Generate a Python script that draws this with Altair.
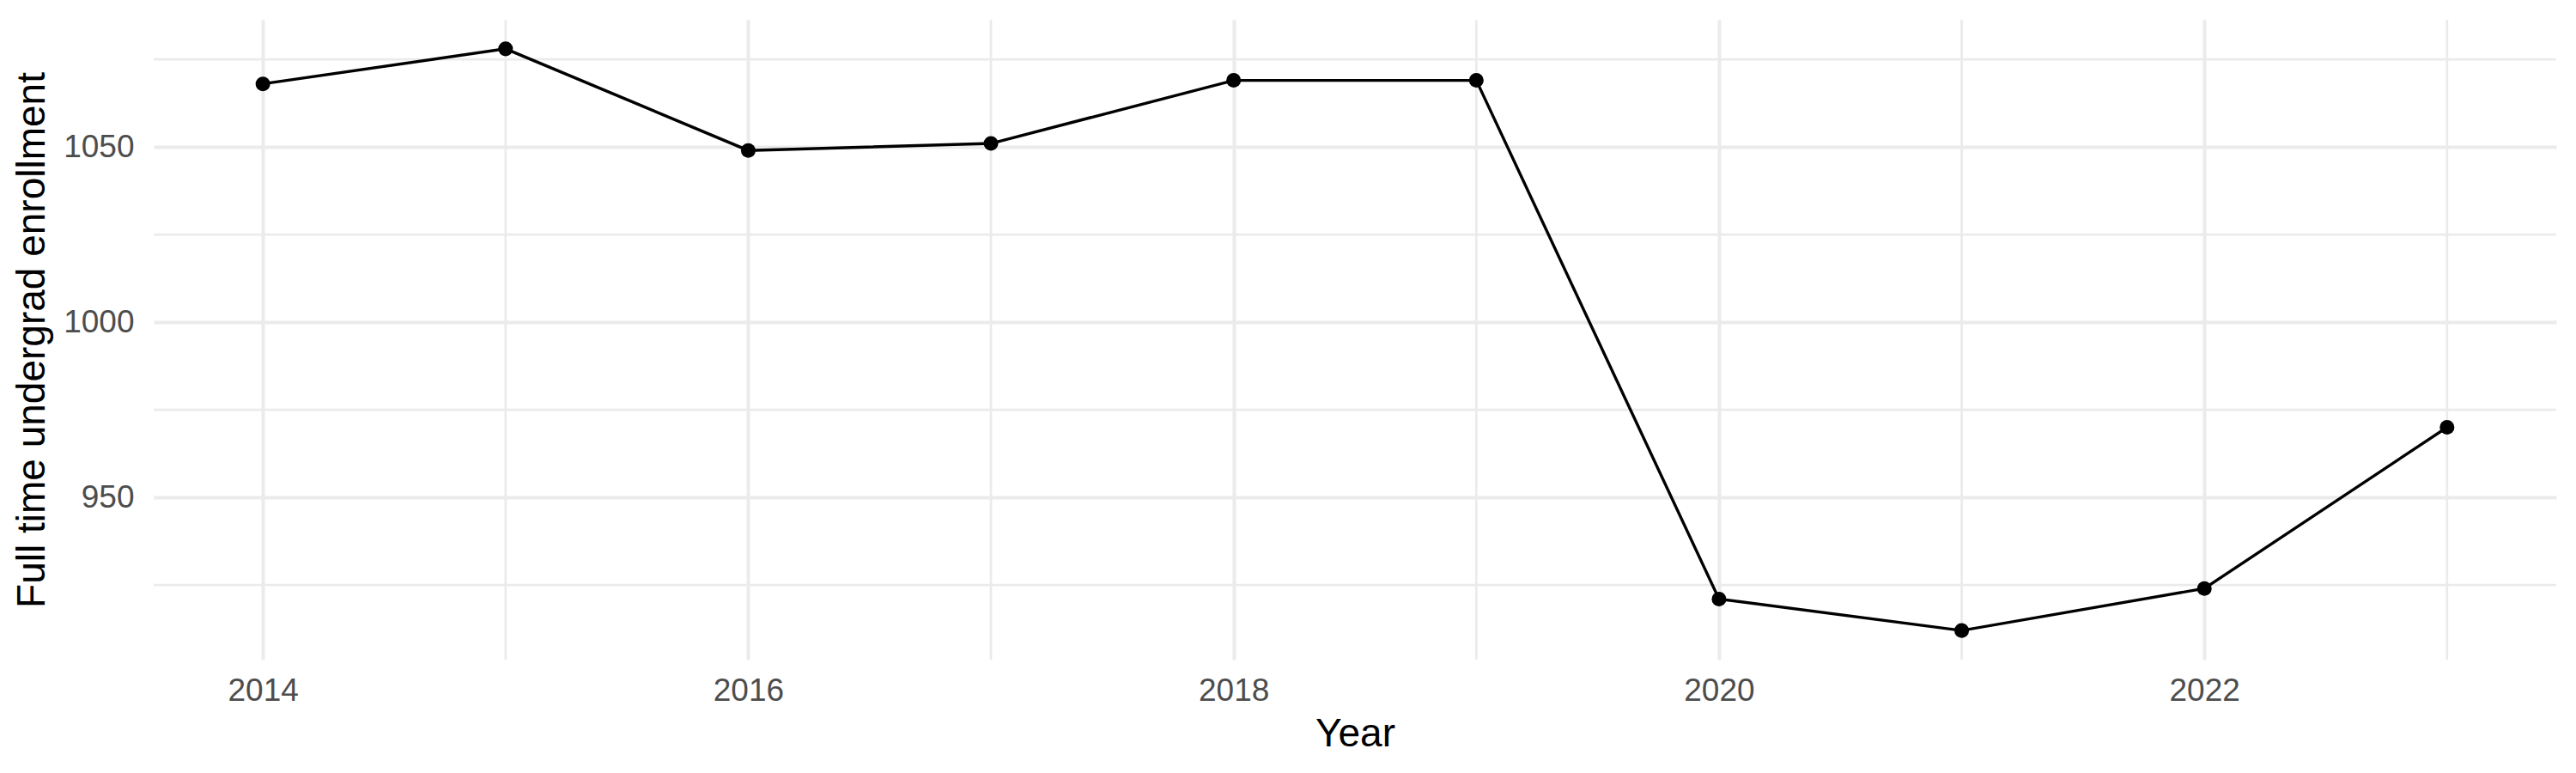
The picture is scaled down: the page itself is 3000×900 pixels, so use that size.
import altair as alt
import pandas as pd

years = [2014, 2015, 2016, 2017, 2018, 2019, 2020, 2021, 2022, 2023]
enrollment = [1068, 1078, 1049, 1051, 1069, 1069, 921, 912, 924, 970]

x_major = [2014, 2016, 2018, 2020, 2022]
x_minor = [2015, 2017, 2019, 2021, 2023]
y_major = [950, 1000, 1050]
y_minor = [925, 975, 1025, 1075]

x_domain = [2013.55, 2023.45]
y_domain = [903.7, 1086.3]

df = pd.DataFrame({"Year": years, "Enrollment": enrollment})
vminor = pd.DataFrame({"Year": x_minor})
hminor = pd.DataFrame({"Enrollment": y_minor})

GRID = "#EBEBEB"
FONT = "Liberation Sans"

xscale = alt.Scale(domain=x_domain, nice=False, zero=False)
yscale = alt.Scale(domain=y_domain, nice=False, zero=False)

xaxis = alt.Axis(
    values=x_major, format="d", grid=True, gridColor=GRID, gridWidth=4,
    domain=False, ticks=False, labelFontSize=37, labelColor="#4D4D4D",
    labelFont=FONT, labelPadding=18, title="Year", titleFontSize=46,
    titleFont=FONT, titleFontWeight="normal", titleColor="black", titlePadding=10,
)
yaxis = alt.Axis(
    values=y_major, format="d", grid=True, gridColor=GRID, gridWidth=4,
    domain=False, ticks=False, labelFontSize=37, labelColor="#4D4D4D",
    labelFont=FONT, labelPadding=23, title="Full time undergrad enrollment",
    titleFontSize=46, titleFont=FONT, titleFontWeight="normal",
    titleColor="black", titlePadding=12,
)

X = alt.X("Year:Q", scale=xscale, axis=xaxis)
Y = alt.Y("Enrollment:Q", scale=yscale, axis=yaxis)

vrules = alt.Chart(vminor).mark_rule(color=GRID, strokeWidth=2.7).encode(x=X)
hrules = alt.Chart(hminor).mark_rule(color=GRID, strokeWidth=2.7).encode(y=Y)

base = alt.Chart(df).encode(x=X, y=Y)
line = base.mark_line(color="black", strokeWidth=3.4)
pts = base.mark_circle(color="black", size=290, opacity=1)

chart = alt.layer(vrules, hrules, line, pts).properties(
    width=2798, height=745,
    autosize=alt.AutoSizeParams(type="none"),
    padding={"left": 171, "top": 15, "right": 15, "bottom": 120},
    background="white",
).configure_view(stroke=None)

chart.save("out.html", embed_options={"renderer": "svg", "actions": False})
